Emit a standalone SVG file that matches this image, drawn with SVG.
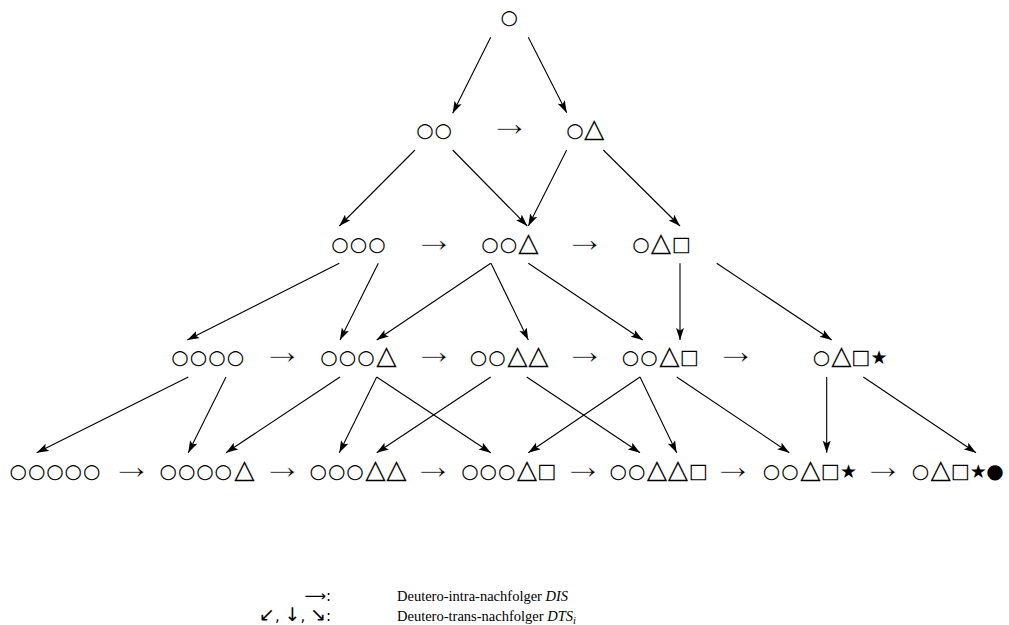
<svg xmlns="http://www.w3.org/2000/svg" width="1009" height="625" viewBox="0 0 1009 625">
  <style>
    .sym { font-family: "DejaVu Sans", sans-serif; font-size: 20px; text-anchor: middle; fill: #000; }
    .tri { font-size: 26.5px; }
    .sq  { font-size: 20.5px; }
    .st  { font-size: 19px; }
    /* a white outline thins the arrow glyph down to a fine stem */
    .to  { font-family: "Liberation Serif", "DejaVu Serif", serif; font-size: 41px; text-anchor: middle; fill: #000; stroke: #fff; stroke-width: 0.7px; }
    .edge { stroke: #000; stroke-width: 1.1; fill: none; marker-end: url(#head); }
    .leg { font-family: "Liberation Serif", "DejaVu Serif", serif; font-size: 14.5px; fill: #000; }
    .legsym { font-family: "DejaVu Sans", sans-serif; font-size: 15px; fill: #000; text-anchor: end; }
    .big { font-size: 19px; }
    .it { font-style: italic; }
  </style>
  <defs>
    <marker id="head" markerUnits="userSpaceOnUse" markerWidth="13" markerHeight="9" refX="12" refY="4" orient="auto">
      <path d="M0,0 L12,4 L0,8 L2.5,4 z" fill="#000"/>
    </marker>
  </defs>

  <!-- successor edges -->
  <g id="connectors">
    <line class="edge" x1="490.7" y1="37.3" x2="452.7" y2="113.3"/>
    <line class="edge" x1="528.3" y1="37.3" x2="566.7" y2="112.7"/>

    <line class="edge" x1="415" y1="150" x2="339.3" y2="226"/>
    <line class="edge" x1="452.7" y1="150" x2="527.3" y2="226"/>
    <line class="edge" x1="566.7" y1="150" x2="528.3" y2="226"/>
    <line class="edge" x1="603.3" y1="150" x2="680" y2="226"/>

    <line class="edge" x1="339.3" y1="263.3" x2="187.3" y2="340"/>
    <line class="edge" x1="378.3" y1="263.3" x2="340" y2="340"/>
    <line class="edge" x1="490.7" y1="263.3" x2="376.7" y2="340"/>
    <line class="edge" x1="491" y1="263.3" x2="528.3" y2="340"/>
    <line class="edge" x1="528.3" y1="263.3" x2="642.7" y2="340"/>
    <line class="edge" x1="680" y1="263.3" x2="680" y2="340"/>
    <line class="edge" x1="716.7" y1="263.3" x2="831.7" y2="340"/>

    <line class="edge" x1="188.3" y1="377" x2="36.7" y2="452.7"/>
    <line class="edge" x1="226" y1="377" x2="188.3" y2="452.7"/>
    <line class="edge" x1="340" y1="377" x2="226" y2="452.7"/>
    <line class="edge" x1="376.7" y1="377" x2="339.3" y2="452.7"/>
    <line class="edge" x1="376.7" y1="377" x2="490.7" y2="452.7"/>
    <line class="edge" x1="490.7" y1="377" x2="376.7" y2="452.7"/>
    <line class="edge" x1="526.7" y1="377" x2="640" y2="452.7"/>
    <line class="edge" x1="640" y1="377" x2="528.3" y2="452.7"/>
    <line class="edge" x1="640" y1="377" x2="676.7" y2="452.7"/>
    <line class="edge" x1="676.7" y1="377" x2="789.3" y2="452.7"/>
    <line class="edge" x1="826.7" y1="377" x2="826.7" y2="452.7"/>
    <line class="edge" x1="863.3" y1="377" x2="976" y2="452.7"/>
  </g>

  <!-- intra-successor arrows between neighbours in a row -->
  <g id="intra-arrows">
    <text class="to" x="509.7" y="136">→</text>
    <text class="to" x="434.2" y="251.5">→</text>
    <text class="to" x="585" y="251.5">→</text>
    <text class="to" x="282.5" y="364">→</text>
    <text class="to" x="434.2" y="364">→</text>
    <text class="to" x="585" y="364">→</text>
    <text class="to" x="736" y="364">→</text>
    <text class="to" x="131.7" y="478.5">→</text>
    <text class="to" x="282.5" y="478.5">→</text>
    <text class="to" x="433.3" y="478.5">→</text>
    <text class="to" x="583.3" y="478.5">→</text>
    <text class="to" x="733.3" y="478.5">→</text>
    <text class="to" x="883.3" y="478.5">→</text>
  </g>

  <!-- row 0 -->
  <g id="n1"><text class="sym" x="509.2" y="24">○</text></g>

  <!-- row 1 -->
  <g id="n2-oo"><text class="sym" x="425 443.3" y="136.5">○○</text></g>
  <g id="n2-ot"><text class="sym" x="575 594.2" y="136.5">○<tspan class="tri">△</tspan></text></g>

  <!-- row 2 -->
  <g id="n3-ooo"><text class="sym" x="340 358.5 377" y="250.5">○○○</text></g>
  <g id="n3-oot"><text class="sym" x="490 508.5 528.5" y="250.5">○○<tspan class="tri">△</tspan></text></g>
  <g id="n3-ots"><text class="sym" x="641 661 681.5" y="250.5">○<tspan class="tri">△</tspan><tspan class="sq">□</tspan></text></g>

  <!-- row 3 -->
  <g id="n4-oooo"><text class="sym" x="180 198.5 217 235.5" y="363.5">○○○○</text></g>
  <g id="n4-ooot"><text class="sym" x="329 347.5 366 386.5" y="363.5">○○○<tspan class="tri">△</tspan></text></g>
  <g id="n4-ootot"><text class="sym" x="478.5 497 517.5 538.5" y="363.5">○○<tspan class="tri">△△</tspan></text></g>
  <g id="n4-oots"><text class="sym" x="630.5 649 669.5 689.5" y="363.5">○○<tspan class="tri">△</tspan><tspan class="sq">□</tspan></text></g>
  <g id="n4-otsk"><text class="sym" x="821.5 841.5 861 879" y="363.5">○<tspan class="tri">△</tspan><tspan class="sq">□</tspan><tspan class="st">★</tspan></text></g>

  <!-- row 4 -->
  <g id="n5-ooooo"><text class="sym" x="18.3 36.7 55 73.3 91.7" y="477.5">○○○○○</text></g>
  <g id="n5-oooot"><text class="sym" x="168.3 186.7 205 223.3 244.5" y="477.5">○○○○<tspan class="tri">△</tspan></text></g>
  <g id="n5-ooott"><text class="sym" x="318.3 336.7 355 375.5 396.5" y="477.5">○○○<tspan class="tri">△△</tspan></text></g>
  <g id="n5-oooTs"><text class="sym" x="470 488.3 506.7 527 547" y="477.5">○○○<tspan class="tri">△</tspan><tspan class="sq">□</tspan></text></g>
  <g id="n5-oottS"><text class="sym" x="618.3 636.7 657 678 698.5" y="477.5">○○<tspan class="tri">△△</tspan><tspan class="sq">□</tspan></text></g>
  <g id="n5-ootsk"><text class="sym" x="771.4 790 810.5 830.5 848.5" y="477.5">○○<tspan class="tri">△</tspan><tspan class="sq">□</tspan><tspan class="st">★</tspan></text></g>
  <g id="n5-otskb"><text class="sym" x="920.5 940.8 960.5 978.2 995" y="477.5">○<tspan class="tri">△</tspan><tspan class="sq">□</tspan><tspan class="st">★</tspan>●</text></g>

  <!-- legend -->
  <g id="legend">
    <text class="legsym" x="331" y="601">⟶:</text>
    <text class="leg" x="397" y="601">Deutero-intra-nachfolger <tspan class="it">DIS</tspan></text>
    <text class="legsym" x="331" y="621"><tspan class="big">↙</tspan>, <tspan class="big">↓</tspan>, <tspan class="big">↘</tspan>:</text>
    <text class="leg" x="397" y="621">Deutero-trans-nachfolger <tspan class="it">DTS</tspan><tspan class="it" font-size="10.5" dy="3">i</tspan></text>
  </g>
</svg>
